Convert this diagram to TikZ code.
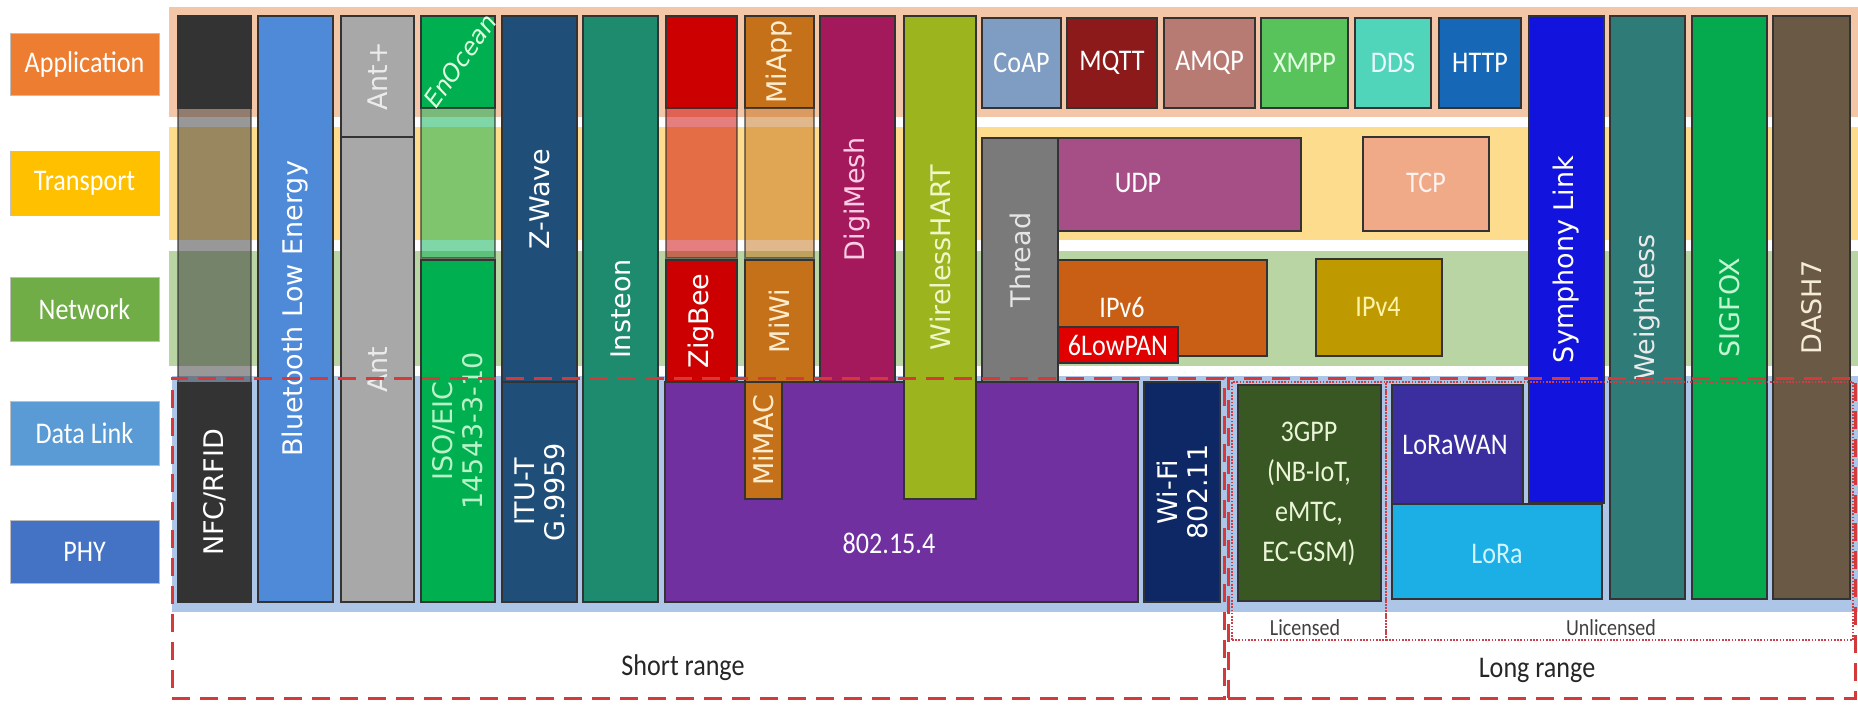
\documentclass[tikz,border=0pt]{standalone}
\usepackage{fontspec}
\newfontfamily\dv{DejaVu Sans}
\newfontfamily\calx[FakeStretch=0.87]{Carlito}
\definecolor{bandApp}{HTML}{F3C6A8}
\definecolor{bandTr}{HTML}{FEDC8D}
\definecolor{bandNet}{HTML}{B9D5A4}
\definecolor{bandPhy}{HTML}{ADC5E6}
\definecolor{lApp}{HTML}{ED7D31}
\definecolor{lTr}{HTML}{FFC000}
\definecolor{lNet}{HTML}{70AD47}
\definecolor{lDL}{HTML}{5B9BD5}
\definecolor{lPHY}{HTML}{4472C4}
\definecolor{cNFC}{HTML}{333333}
\definecolor{cBLE}{HTML}{4F8AD9}
\definecolor{cAnt}{HTML}{A8A8A8}
\definecolor{cEnO}{HTML}{00B050}
\definecolor{cZW}{HTML}{1F4E79}
\definecolor{cIns}{HTML}{1E8A6E}
\definecolor{cZig}{HTML}{CC0000}
\definecolor{cMi}{HTML}{C4711A}
\definecolor{cPurple}{HTML}{7030A0}
\definecolor{cDigi}{HTML}{A3195B}
\definecolor{cWH}{HTML}{9CB51E}
\definecolor{cCoAP}{HTML}{7F9DC2}
\definecolor{cMQTT}{HTML}{8C1A1A}
\definecolor{cAMQP}{HTML}{B87B73}
\definecolor{cXMPP}{HTML}{58C35A}
\definecolor{cDDS}{HTML}{50D4BA}
\definecolor{cHTTP}{HTML}{1668B6}
\definecolor{cThread}{HTML}{7A7A7A}
\definecolor{cUDP}{HTML}{A64F86}
\definecolor{cTCP}{HTML}{F0AA87}
\definecolor{cIPvsix}{HTML}{C85F14}
\definecolor{cLow}{HTML}{E00000}
\definecolor{cIPvfour}{HTML}{BF9900}
\definecolor{cWiFi}{HTML}{0E2866}
\definecolor{cGPP}{HTML}{385723}
\definecolor{cLoRaWAN}{HTML}{3B2E9E}
\definecolor{cLoRa}{HTML}{1CAFE6}
\definecolor{cSym}{HTML}{1214DD}
\definecolor{cWeight}{HTML}{2F7B78}
\definecolor{cSig}{HTML}{05AA4F}
\definecolor{cDash}{HTML}{6A5A45}
\definecolor{dashRed}{HTML}{D43A3A}
\definecolor{dotRed}{HTML}{C8404A}
% name, x1, y1, x2, y2, options
\newcommand\blk[6]{%
  \node[blkbase,#6,minimum width={(#4-#2)*0.5pt},minimum height={(#5-#3)*0.5pt}] (#1) at ({(#2+#4)/2},{(#3+#5)/2}) {};}
\begin{document}
\begin{tikzpicture}[x=0.5pt,y=-0.5pt,
  blkbase/.style={rectangle,inner sep=0pt,outer sep=0pt},
  col/.style={draw=black!80,line width=0.6pt},
  ovl/.style={col,fill opacity=0.5,draw opacity=0.6},
  lbl/.style={draw=black!25,line width=0.5pt},
  vt/.style={rotate=90,text=white,font=\dv\fontsize{13.5}{15}\selectfont,align=center,inner sep=0pt},
  ht/.style={text=white,font=\calx\fontsize{15}{20}\selectfont,align=center,inner sep=0pt},
  rangecap/.style={text=black!85,font=\calx\fontsize{15}{18}\selectfont,inner sep=0pt},
  rangesmall/.style={text=black!75,font=\calx\fontsize{11.5}{14}\selectfont,inner sep=0pt},
  dashbox/.style={draw=dashRed,line width=1.5pt,dash pattern=on 9pt off 5pt},
  dotbox/.style={draw=dotRed,line width=1.2pt,dash pattern=on 0.8pt off 0.8pt}]
\useasboundingbox (0,0) rectangle (1858,708);
\fill[white] (0,0) rectangle (1858,708);

% layer labels
\blk{lblApp}{10}{33}{159}{95}{lbl,fill=lApp}
\blk{lblTr}{10}{151}{159}{215}{lbl,fill=lTr}
\blk{lblNet}{10}{277}{159}{341}{lbl,fill=lNet}
\blk{lblDL}{10}{401}{159}{465}{lbl,fill=lDL}
\blk{lblPHY}{10}{520}{159}{583}{lbl,fill=lPHY}
\node[ht] (tApp) at (lblApp) {Application};
\node[ht] (tTr) at (lblTr) {Transport};
\node[ht] (tNet) at (lblNet) {Network};
\node[ht] (tDL) at (lblDL) {Data Link};
\node[ht] (tPHY) at (lblPHY) {PHY};

% bands
\blk{bApp}{169}{7}{1858}{117}{fill=bandApp}
\blk{bTr}{169}{127}{1858}{240}{fill=bandTr}
\blk{bNet}{169}{251}{1858}{366}{fill=bandNet}
\blk{bPhy}{172}{376}{1858}{612}{fill=bandPhy}

% NFC
\blk{nfcTop}{178}{16}{251}{108}{col,fill=cNFC}
\blk{nfcOv}{178}{108}{251}{383}{ovl,fill=cNFC}
\blk{nfc}{178}{383}{251}{602}{col,fill=cNFC}
\node[vt] (tNFC) at (nfc) {NFC/RFID};
% BLE
\blk{ble}{258}{16}{333}{602}{col,fill=cBLE}
\node[vt] (tBLE) at (ble) {Bluetooth Low Energy};
% Ant
\blk{antp}{341}{16}{414}{137}{col,fill=cAnt}
\blk{ant}{341}{137}{414}{602}{col,fill=cAnt}
\node[vt,text=white!92!black] (tAntp) at (antp) {Ant+};
\node[vt,text=white!92!black] (tAnt) at (ant) {Ant};
% EnOcean
\blk{enoTop}{421}{16}{495}{108}{col,fill=cEnO}
\blk{enoOv}{421}{108}{495}{258}{ovl,fill=cEnO}
\blk{iso}{421}{260}{495}{602}{col,fill=cEnO}
\node[rotate=55,text=white!88!green,font=\dv\itshape\fontsize{12}{14}\selectfont,inner sep=0pt] (tEnO) at (460,61) {EnOcean};
\node[vt,text={rgb,255:red,185;green,242;blue,200}] (tISO) at (iso) {ISO/EIC\\14543-3-10};
% Z-Wave
\blk{zw}{502}{16}{577}{382}{col,fill=cZW}
\blk{itu}{502}{382}{577}{602}{col,fill=cZW}
\node[vt] (tZW) at (zw) {Z-Wave};
\node[vt] (tITU) at (itu) {ITU-T\\G.9959};
% Insteon
\blk{ins}{583}{16}{658}{602}{col,fill=cIns}
\node[vt] (tIns) at (ins) {Insteon};
% 802.15.4
\blk{ieee}{665}{382}{1138}{602}{col,fill=cPurple}
\node[ht] (tIeee) at (889,543) {802.15.4};
% ZigBee
\blk{zigTop}{666}{16}{737}{108}{col,fill=cZig}
\blk{zigOv}{666}{108}{737}{258}{ovl,fill=cZig}
\blk{zig}{666}{260}{737}{382}{col,fill=cZig}
\node[vt] (tZig) at (zig) {ZigBee};
% MiApp / MiWi / MiMAC
\blk{miapp}{745}{16}{814}{108}{col,fill=cMi}
\blk{miOv}{745}{108}{814}{258}{ovl,fill=cMi}
\blk{miwi}{745}{260}{814}{382}{col,fill=cMi}
\blk{mimac}{745}{382}{782}{499}{col,fill=cMi}
\node[vt,text={rgb,255:red,255;green,236;blue,205}] (tMiApp) at (miapp) {MiApp};
\node[vt,text={rgb,255:red,255;green,236;blue,205}] (tMiWi) at (miwi) {MiWi};
\node[vt,text={rgb,255:red,255;green,236;blue,205}] (tMiMAC) at (mimac) {MiMAC};
% DigiMesh
\blk{digi}{820}{16}{895}{382}{col,fill=cDigi}
\node[vt,text={rgb,255:red,250;green,205;blue,228}] (tDigi) at (digi) {DigiMesh};
% WirelessHART
\blk{wh}{904}{16}{976}{499}{col,fill=cWH}
\node[vt,text={rgb,255:red,240;green,246;blue,200}] (tWH) at (wh) {WirelessHART};
% application protocols
\blk{coap}{982}{18}{1061}{108}{col,fill=cCoAP}
\blk{mqtt}{1067}{18}{1157}{108}{col,fill=cMQTT}
\blk{amqp}{1164}{18}{1255}{108}{col,fill=cAMQP}
\blk{xmpp}{1261}{18}{1348}{108}{col,fill=cXMPP}
\blk{dds}{1355}{18}{1431}{108}{col,fill=cDDS}
\blk{http}{1439}{18}{1521}{108}{col,fill=cHTTP}
\node[ht] (tCoAP) at (coap) {CoAP};
\node[ht] (tMQTT) at (mqtt) {MQTT};
\node[ht] (tAMQP) at (amqp) {AMQP};
\node[ht,text=white!90!green] (tXMPP) at (xmpp) {XMPP};
\node[ht,text=white!92!cyan] (tDDS) at (dds) {DDS};
\node[ht] (tHTTP) at (http) {HTTP};
% Thread, UDP, TCP, IPv6, 6LowPAN, IPv4
\blk{thread}{982}{138}{1058}{382}{col,fill=cThread}
\node[vt,text=white!90!black] (tThread) at (thread) {Thread};
\blk{udp}{1058}{138}{1301}{231}{col,fill=cUDP}
\node[ht] (tUDP) at (1138,183) {UDP};
\blk{tcp}{1363}{137}{1489}{231}{col,fill=cTCP}
\node[ht,text=white!95!red] (tTCP) at (1426,183) {TCP};
\blk{ipvsix}{1058}{260}{1267}{356}{col,fill=cIPvsix}
\node[ht] (tIPvsix) at (1122,307) {IPv6};
\blk{lowpan}{1058}{327}{1178}{363}{col,fill=cLow}
\node[ht] (tLow) at (1118,345) {6LowPAN};
\blk{ipvfour}{1316}{259}{1442}{356}{col,fill=cIPvfour}
\node[ht,text={rgb,255:red,255;green,244;blue,170}] (tIPvfour) at (1378,307) {IPv4};
% Wi-Fi
\blk{wifi}{1144}{382}{1220}{602}{col,fill=cWiFi}
\node[vt] (tWiFi) at (wifi) {Wi-Fi\\802.11};
% long range
\blk{gpp}{1238}{385}{1381}{601}{col,fill=cGPP}
\node[ht,text={rgb,255:red,235;green,245;blue,215},font=\calx\fontsize{15}{20}\selectfont] (tGPP) at (1309,494) {3GPP\\(NB-IoT,\\eMTC,\\EC-GSM)};
\blk{lorawan}{1392}{385}{1523}{504}{col,fill=cLoRaWAN}
\node[ht] (tLoRaWAN) at (1455,445) {LoRaWAN};
\blk{lora}{1392}{504}{1602}{599}{col,fill=cLoRa}
\node[ht,text={rgb,255:red,210;green,244;blue,255}] (tLoRa) at (1497,554) {LoRa};
\blk{sym}{1529}{16}{1604}{503}{col,fill=cSym}
\node[vt] (tSym) at (sym) {Symphony Link};
\blk{weight}{1610}{16}{1685}{599}{col,fill=cWeight}
\node[vt,text=white!92!black] (tWeight) at (weight) {Weightless};
\blk{sig}{1692}{16}{1767}{599}{col,fill=cSig}
\node[vt,text={rgb,255:red,195;green,245;blue,210}] (tSig) at (sig) {SIGFOX};
\blk{dash}{1773}{16}{1850}{599}{col,fill=cDash}
\node[vt,text={rgb,255:red,245;green,236;blue,215}] (tDash) at (dash) {DASH7};

% range boxes
\blk{lic}{1232}{382}{1386}{640}{dotbox}
\blk{unlic}{1386}{382}{1853}{640}{dotbox}
\blk{short}{172}{378}{1224}{698}{dashbox}
\blk{long}{1228}{378}{1855}{698}{dashbox}
\node[rangesmall] (tLic) at (1305,628) {Licensed};
\node[rangesmall] (tUnlic) at (1611,628) {Unlicensed};
\node[rangecap] (tShort) at (683,668) {Short range};
\node[rangecap] (tLong) at (1537,670) {Long range};
\end{tikzpicture}
\end{document}
